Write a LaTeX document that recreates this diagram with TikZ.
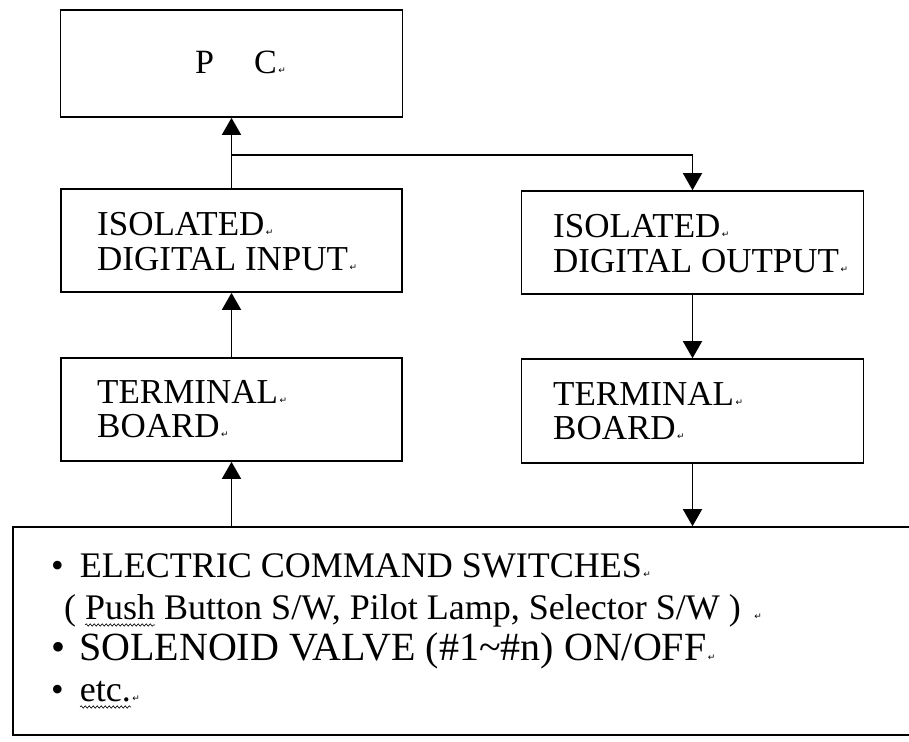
\documentclass[tikz,border=0pt]{standalone}
\usepackage{fontspec}
\setmainfont{Liberation Serif}
\newfontfamily\djv{DejaVu Sans}
\usetikzlibrary{arrows.meta,decorations.pathmorphing}
\newcommand{\retmark}{{\djv\fontsize{9}{9}\selectfont\,↵}}
\begin{document}
\begin{tikzpicture}[x=1pt,y=-1pt,
  box/.style={draw, line width=1.6pt, rectangle, inner sep=0pt},
  lbl/.style={inner sep=0pt, anchor=base west, font=\fontsize{35}{35}\selectfont},
  lst/.style={inner sep=0pt, anchor=base west, font=\fontsize{36}{36}\selectfont},
  conn/.style={line width=1.5pt, -{Triangle[length=17pt,width=19pt]}},
  plainline/.style={line width=1.5pt},
  wavy/.style={draw, line width=0.6pt, decorate, decoration={snake, amplitude=1.2pt, segment length=4pt}}]
\useasboundingbox (0,0) rectangle (909,741);
\clip (0,0) rectangle (909,741);
% boxes
\node[box, minimum width=342pt, minimum height=107pt] (pc) at (231.5,63.5) {};
\node[box, minimum width=341pt, minimum height=103pt] (isoin) at (231.5,240.5) {};
\node[box, minimum width=342pt, minimum height=103pt] (isoout) at (692.5,242.5) {};
\node[box, minimum width=341pt, minimum height=103pt] (termin) at (231.5,409.5) {};
\node[box, minimum width=342pt, minimum height=104pt] (termout) at (692.5,411) {};
\node[box, minimum width=987pt, minimum height=208pt] (bot) at (506.5,631) {};
% texts
\node[lbl, font=\fontsize{34}{34}\selectfont] (pct) at (195,74) {P\hspace{40pt}C\retmark};
\node[lbl] (isoin1) at (97,235) {ISOLATED\retmark};
\node[lbl] (isoin2) at (97,270) {DIGITAL INPUT\retmark};
\node[lbl] (isoout1) at (553,237) {ISOLATED\retmark};
\node[lbl] (isoout2) at (553,272) {DIGITAL OUTPUT\retmark};
\node[lbl] (termin1) at (97,403) {TERMINAL\retmark};
\node[lbl] (termin2) at (97,437) {BOARD\retmark};
\node[lbl] (termout1) at (553,405) {TERMINAL\retmark};
\node[lbl] (termout2) at (553,439) {BOARD\retmark};
\node[lst] (l1) at (51,577) {•\hspace{16pt}ELECTRIC COMMAND SWITCHES\retmark};
\node[lst] (l2) at (64,619) {( Push Button S/W, Pilot Lamp, Selector S/W )\hspace{12pt}\retmark};
\node[lst, font=\fontsize{40}{40}\selectfont] (l3) at (51,660) {•\hspace{14pt}SOLENOID VALVE (\#1\textasciitilde\#n) ON/OFF\retmark};
\node[lst] (l4) at (51,701) {•\hspace{16pt}etc.\retmark};
% spell-check squiggles
\draw[wavy] (85,625) -- (155,625);
\draw[wavy] (80,707) -- (131,707);
% connectors
\coordinate (j) at (231.5,155);
\draw[conn] (isoin.north) -- (pc.south);
\draw[plainline] (j) -- (j -| isoout.north);
\draw[conn] (j -| isoout.north) -- (isoout.north);
\draw[conn] (termin.north) -- (isoin.south);
\draw[conn] (termin.south |- bot.north) -- (termin.south);
\draw[conn] (isoout.south) -- (termout.north);
\draw[conn] (termout.south) -- (termout.south |- bot.north);
\end{tikzpicture}
\end{document}
